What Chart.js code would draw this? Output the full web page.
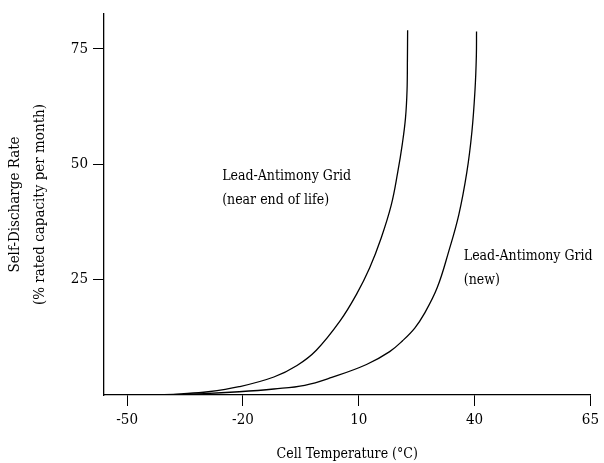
<!DOCTYPE html>
<html>
<head>
<meta charset="utf-8">
<script src="https://cdn.jsdelivr.net/npm/chart.js@4"></script>
<style>
  html, body { margin: 0; padding: 0; background: #fff; }
  #wrap { width: 604px; height: 463px; position: relative; }
</style>
</head>
<body>
<div id="wrap"><canvas id="c"></canvas></div>
<script>
'use strict';

// temperatures (deg C) and self-discharge rate (% per month)
var endLifeTemps = [-43, -36, -29, -21, -12, -6, -1, 5.2, 9.4, 12.8, 15.8, 18.4, 20.1, 21.3, 22.1, 22.5, 22.6, 22.65];
var endLifeRates = [0, 0.25, 0.7, 1.8, 3.9, 6.4, 9.7, 16.1, 21.8, 27.5, 34, 41.1, 48.3, 54.5, 60, 66, 73, 79];

var newTemps = [-43, -30, -21, -12, -4, 3, 12, 18, 21.4, 24.5, 26.9, 30.3, 33.3, 35.9, 38, 39.3, 40.1, 40.45, 40.5];
var newRates = [0, 0.3, 0.7, 1.3, 2.1, 3.8, 6.6, 9.4, 11.8, 14.5, 17.5, 23.2, 31.1, 39, 48.3, 57, 66, 73.3, 78.7];

var xTickValues = [-50, -20, 10, 40, 70];
var xTickLabels = ['-50', '-20', '10', '40', '65'];
var yTickValues = [25, 50, 75];

var FONT = '"DejaVu Serif Condensed", "Liberation Serif", serif';

function toPoints(xs, ys) {
    return xs.map(function(x, i) { return { x: x, y: ys[i] }; });
}

// curve labels, anchored in data units
var curveNotes = [
    { x: -25.4, y: 47.4, text: 'Lead-Antimony Grid' },
    { x: -25.4, y: 42.2, text: '(near end of life)' },
    { x: 37.2, y: 30.1, text: 'Lead-Antimony Grid' },
    { x: 37.2, y: 24.8, text: '(new)' }
];

var notesPlugin = {
    id: 'notes',
    afterDatasetsDraw: function(chart) {
        var ctx = chart.ctx;
        var xs = chart.scales.x, ys = chart.scales.y;
        ctx.save();
        ctx.fillStyle = '#000';
        ctx.font = '14px ' + FONT;
        ctx.textAlign = 'left';
        ctx.textBaseline = 'middle';
        curveNotes.forEach(function(n) {
            ctx.fillText(n.text, xs.getPixelForValue(n.x), ys.getPixelForValue(n.y));
        });
        ctx.restore();
    }
};

var lineStyle = {
    borderColor: '#000',
    borderWidth: 1.3,
    pointRadius: 0,
    showLine: true,
    fill: false,
    tension: 0.4
};

new Chart(document.getElementById('c').getContext('2d'), {
    type: 'scatter',
    data: {
        datasets: [
            Object.assign({ label: 'Lead-Antimony Grid (near end of life)', data: toPoints(endLifeTemps, endLifeRates) }, lineStyle),
            Object.assign({ label: 'Lead-Antimony Grid (new)', data: toPoints(newTemps, newRates) }, lineStyle)
        ]
    },
    options: {
        responsive: true,
        maintainAspectRatio: false,
        animation: false,
        layout: { padding: { left: 0, right: 9, top: 10, bottom: 0 } },
        plugins: {
            legend: { display: false },
            tooltip: { enabled: false }
        },
        scales: {
            x: {
                type: 'linear',
                min: -56,
                max: 70,
                afterBuildTicks: function(scale) {
                    scale.ticks = xTickValues.map(function(v) { return { value: v }; });
                },
                afterFit: function(scale) { scale.height = 68; },
                ticks: {
                    color: '#000',
                    font: { family: FONT, size: 15 },
                    padding: 5,
                    maxRotation: 0,
                    callback: function(value) {
                        var i = xTickValues.indexOf(value);
                        return i >= 0 ? xTickLabels[i] : '';
                    }
                },
                grid: { drawOnChartArea: false, drawTicks: true, tickLength: 11, color: '#000', lineWidth: 1 },
                border: { display: true, color: '#000', width: 1.3 },
                title: {
                    display: true,
                    text: 'Cell Temperature (°C)',
                    color: '#000',
                    font: { family: FONT, size: 14 },
                    padding: { top: 12, bottom: 0 }
                }
            },
            y: {
                type: 'linear',
                min: 0,
                max: 82.5,
                afterBuildTicks: function(scale) {
                    scale.ticks = yTickValues.map(function(v) { return { value: v }; });
                },
                afterFit: function(scale) { scale.width = 104; },
                ticks: {
                    color: '#000',
                    font: { family: FONT, size: 15 },
                    padding: 5
                },
                grid: { drawOnChartArea: false, drawTicks: true, tickLength: 11, color: '#000', lineWidth: 1 },
                border: { display: true, color: '#000', width: 1.3 },
                title: {
                    display: true,
                    text: ['Self-Discharge Rate', '(% rated capacity per month)'],
                    color: '#000',
                    font: { family: FONT, size: 15, lineHeight: 1.65 },
                    padding: { top: 3, bottom: 0 }
                }
            }
        }
    },
    plugins: [notesPlugin]
});
</script>
</body>
</html>
